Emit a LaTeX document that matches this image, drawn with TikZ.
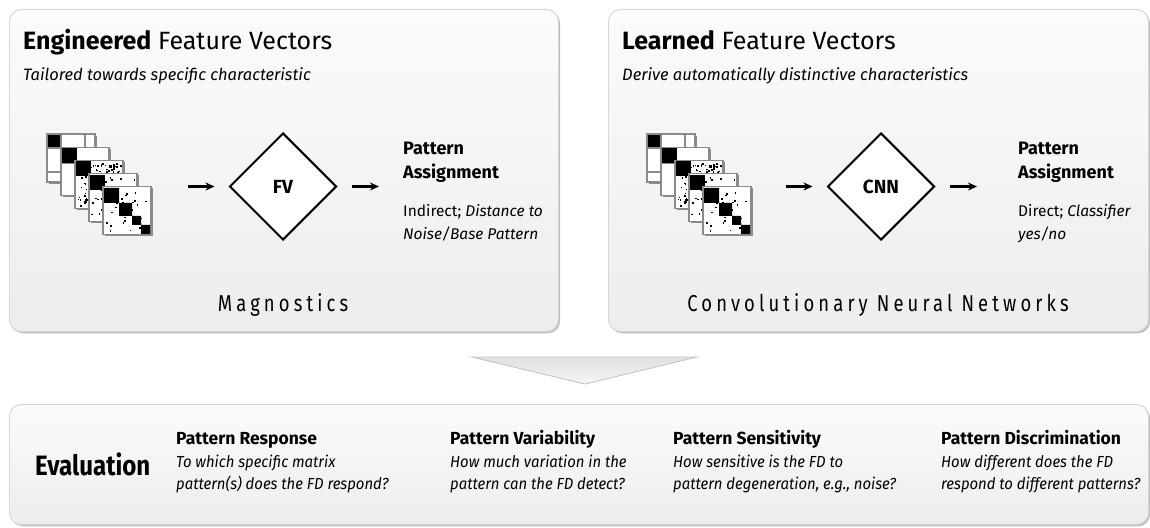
\documentclass[tikz,border=0pt]{standalone}
\usepackage{fontspec}
\setmainfont{Fira Sans}
\newfontfamily\spacedfont[LetterSpace=18,FakeStretch=0.8]{Fira Sans}
\newfontfamily\narrowfont[FakeStretch=0.86]{Fira Sans}
\newfontfamily\slimfont[FakeStretch=0.93]{Fira Sans}
\usetikzlibrary{shapes.geometric,shadows,arrows.meta}
\definecolor{panelborder}{HTML}{D6D6D6}
\definecolor{paneltop}{HTML}{FBFBFB}
\definecolor{panelbottom}{HTML}{EDEDED}
\definecolor{cardedge}{HTML}{8A8A8A}

% one matrix card: #1 = kind (0 blocks, 1 blocks, 2 noisy, 3 sparse, 4 diagonal)
\newcommand{\matcard}[1]{%
  \fill[black!45] (1.6,1.6) rectangle (49.6,49.6);
  \filldraw[fill=white, draw=cardedge, line width=1.2pt] (0,0) rectangle (48,48);
  \ifnum#1=0
    \fill[black] (1,1) rectangle (14,14);
    \draw[cardedge, line width=1.4pt] (14,1) -- (14,47) (38,1) -- (38,14) (1,14) -- (47,14) (1,38) -- (14,38);
  \fi
  \ifnum#1=1
    \fill[black] (1,1) rectangle (16,16);
    \draw[cardedge, line width=1.4pt] (16,16) -- (16,47) (1,16) -- (16,16);
  \fi
  \ifnum#1=2
    \fill[black] (1,1) rectangle (16,16);
    \foreach \k in {1,...,150}{%
      \pgfmathsetmacro{\dotx}{2+43*rnd}\pgfmathsetmacro{\doty}{2+43*rnd}%
      \fill[black] (\dotx,\doty) rectangle ++(1.6,1.6);}
  \fi
  \ifnum#1=3
    \fill[black] (1,1) rectangle (16,16);
    \foreach \k in {1,...,22}{%
      \pgfmathsetmacro{\dotx}{2+43*rnd}\pgfmathsetmacro{\doty}{2+43*rnd}%
      \fill[black] (\dotx,\doty) rectangle ++(1.6,1.6);}
  \fi
  \ifnum#1=4
    \fill[black] (1,1) rectangle (16,16) (16,16) rectangle (29,29)
                 (29,29) rectangle (38,38) (38,38) rectangle (47,47);
    \foreach \k in {1,...,26}{%
      \pgfmathsetmacro{\dotx}{2+43*rnd}\pgfmathsetmacro{\doty}{2+43*rnd}%
      \fill[black] (\dotx,\doty) rectangle ++(1.6,1.6);}
  \fi
}

\begin{document}
\begin{tikzpicture}[x=1pt,y=-1pt,
  panel/.style={draw=panelborder, line width=0.9pt, rounded corners=12pt,
    top color=paneltop, bottom color=panelbottom, anchor=north west, inner sep=0pt,
    drop shadow={shadow xshift=1.6pt, shadow yshift=-1.8pt, opacity=0.45, fill=black!55}},
  decide/.style={diamond, draw=black, line width=2pt, fill=white, aspect=1,
    minimum width=107pt, minimum height=107pt, inner sep=0pt,
    font=\fontsize{19}{22}\selectfont\bfseries},
  flow/.style={draw=black, line width=2.4pt, -{Stealth[length=9pt,width=8pt]}},
  title/.style={anchor=base west, inner sep=0pt, font=\fontsize{25}{29}\selectfont},
  subtitle/.style={anchor=base west, inner sep=0pt, font=\fontsize{16.5}{20}\selectfont\itshape},
  assign/.style={anchor=north west, inner sep=0pt, align=left,
    font=\fontsize{18}{24}\selectfont\bfseries},
  assignnote/.style={anchor=north west, inner sep=0pt, align=left,
    font=\fontsize{15.5}{23}\selectfont},
  method/.style={anchor=base, inner sep=0pt, font=\fontsize{23}{26}\selectfont\spacedfont},
  colhead/.style={anchor=base west, inner sep=0pt, font=\fontsize{17.5}{20}\selectfont\bfseries},
  coltext/.style={anchor=north west, inner sep=0pt, align=left,
    font=\fontsize{16}{22}\selectfont\slimfont\itshape},
  stackbox/.style={minimum width=106pt, minimum height=105pt, inner sep=0pt, anchor=north west}
]
\useasboundingbox (0,0) rectangle (1150,527);
\fill[white] (0,0) rectangle (1150,527);

% panels
\node[panel, minimum width=549pt, minimum height=322pt] (left) at (9,9) {};
\node[panel, minimum width=540pt, minimum height=322pt] (right) at (608,9) {};
\node[panel, minimum width=1139pt, minimum height=120pt] (eval) at (9,404) {};

% chevron between the stages
\filldraw[draw=black!22, line width=0.8pt, top color=black!12, bottom color=black!4]
  (472,357) -- (697,357) -- (585,384) -- cycle;

% ---------- engineered feature vectors ----------
\node[title] (ltitle) at (23,49) {\textbf{Engineered} Feature Vectors};
\node[subtitle] (lsub) at (23,80) {Tailored towards specific characteristic};

\node[stackbox] (lstack) at (47,134) {};
\node[decide] (lfv) at (283,186.5) {FV};
\node[assign] (lassign) at (403,142) {Pattern\\Assignment};
\node[assignnote] (lnote) at (403,204) {Indirect; \textit{Distance to}\\\textit{Noise/Base Pattern}};
\coordinate (lin) at ([xshift=-41pt]lfv.west);
\draw[flow] (lin) -- ([xshift=-14pt]lfv.west);
\draw[flow] ([xshift=14pt]lfv.east) -- ([xshift=-24pt]lfv.east -| lassign.west);
\node[method] (lmethod) at (283,311) {Magnostics};

\pgfmathsetseed{17}
\foreach \i in {0,...,4}{
  \begin{scope}[shift={(47+14*\i,134+13.2*\i)}]
    \matcard{\i}
  \end{scope}
}

% ---------- learned feature vectors ----------
\node[title] (rtitle) at (622,49) {\textbf{Learned} Feature Vectors};
\node[subtitle] (rsub) at (622,80) {Derive automatically distinctive characteristics};

\node[stackbox] (rstack) at (647,134) {};
\node[decide] (rcnn) at (881,186.5) {CNN};
\node[assign] (rassign) at (1018,142) {Pattern\\Assignment};
\node[assignnote] (rnote) at (1018,204) {Direct; \textit{Classifier}\\\textit{yes/no}};
\coordinate (rin) at ([xshift=-41pt]rcnn.west);
\draw[flow] (rin) -- ([xshift=-14pt]rcnn.west);
\draw[flow] ([xshift=14pt]rcnn.east) -- ([xshift=-41pt]rcnn.east -| rassign.west);
\node[method] (rmethod) at (878,311) {Convolutionary Neural Networks};

\pgfmathsetseed{17}
\foreach \i in {0,...,4}{
  \begin{scope}[shift={(647+14*\i,134+13.2*\i)}]
    \matcard{\i}
  \end{scope}
}

% ---------- evaluation ----------
\node[anchor=base west, inner sep=0pt, font=\fontsize{28}{32}\selectfont\narrowfont\bfseries]
  (evtitle) at (35,475) {Evaluation};

\node[colhead] (h1) at (176,444) {Pattern Response};
\node[coltext] (t1) at (176,455) {To which specific matrix\\pattern(s) does the FD respond?};
\node[colhead] (h2) at (450,444) {Pattern Variability};
\node[coltext] (t2) at (450,455) {How much variation in the\\pattern can the FD detect?};
\node[colhead] (h3) at (673,444) {Pattern Sensitivity};
\node[coltext] (t3) at (673,455) {How sensitive is the FD to\\pattern degeneration, e.g., noise?};
\node[colhead] (h4) at (941,444) {Pattern Discrimination};
\node[coltext] (t4) at (941,455) {How different does the FD\\respond to different patterns?};
\end{tikzpicture}
\end{document}
